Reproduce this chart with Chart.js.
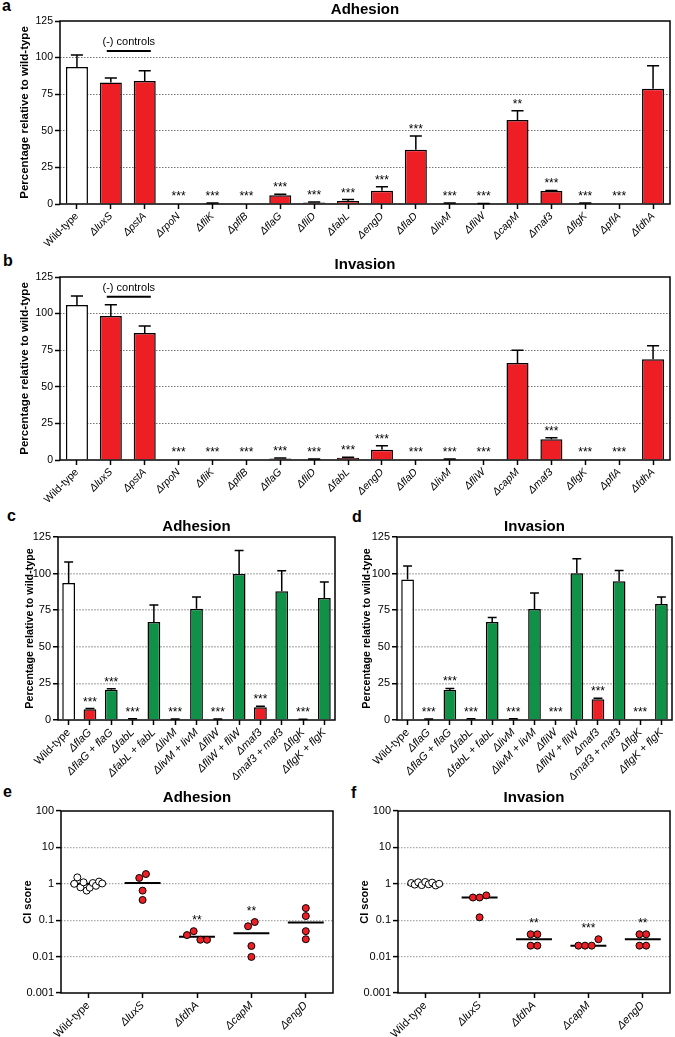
<!DOCTYPE html>
<html>
<head>
<meta charset="utf-8">
<script src="https://cdn.jsdelivr.net/npm/chart.js@4.4.0/dist/chart.umd.min.js"></script>
<style>
  body { margin: 0; background: #fff; width: 675px; height: 1037px; position: relative; overflow: hidden;
         font-family: "Liberation Sans", Arial, sans-serif; }
  canvas { position: absolute; }
  .tag { position: absolute; font-weight: bold; font-size: 16px; line-height: 16px; }
</style>
</head>
<body>
<div class="tag" style="left:2px;top:-2px">a</div>
<div class="tag" style="left:3px;top:253px">b</div>
<div class="tag" style="left:7px;top:508px">c</div>
<div class="tag" style="left:352px;top:509px">d</div>
<div class="tag" style="left:3px;top:784px">e</div>
<div class="tag" style="left:351px;top:785px">f</div>

<canvas id="pa" width="675" height="255" style="left:0;top:1px"></canvas>
<canvas id="pb" width="675" height="250" style="left:0;top:256px"></canvas>
<canvas id="pc" width="340" height="262" style="left:0;top:518px"></canvas>
<canvas id="pd" width="338" height="262" style="left:337px;top:518px"></canvas>
<canvas id="pe" width="340" height="248" style="left:0;top:789px"></canvas>
<canvas id="pf" width="338" height="248" style="left:337px;top:789px"></canvas>

<script>
// ---- screen of single mutants (a, b)
var screenLabels = ["Wild-type", "ΔluxS", "ΔpstA", "ΔrpoN", "ΔfliK", "ΔpflB", "ΔflaG", "ΔfliD", "ΔfabL",
  "ΔengD", "ΔflaD", "ΔlivM", "ΔfliW", "ΔcapM", "Δmaf3", "ΔflgK", "ΔpflA", "ΔfdhA"];
var adhesionMean = [93.6, 83, 84, 0, 0.5, 0, 6, 1, 2, 9, 37, 0.5, 0.3, 57.4, 8.9, 0.5, 0, 78.8];
var adhesionErr = [8.2, 3, 7, 0, 0.2, 0, 0.7, 0.3, 1, 2.8, 9.4, 0.2, 0.1, 6.3, 0.4, 0.2, 0, 15.7];
var adhesionSig = ["", "", "", "***", "***", "***", "***", "***", "***", "***", "***", "***", "***", "**", "***", "***", "***", ""];
var invasionMean = [105.9, 98.4, 86.7, 0.3, 0.2, 0.3, 1, 0.5, 1.5, 7, 0.3, 0.5, 0.2, 66.3, 14.1, 0.2, 0, 68.8];
var invasionErr = [6.1, 7.6, 4.8, 0, 0, 0, 0.3, 0.2, 0.4, 2.8, 0, 0.2, 0, 8.7, 1.1, 0, 0, 9.2];
var invasionSig = ["", "", "", "***", "***", "***", "***", "***", "***", "***", "***", "***", "***", "", "***", "***", "***", ""];
var percentTicks = [0, 25, 50, 75, 100, 125];

// ---- complementation (c, d)
var compLabels = ["Wild-type", "ΔflaG", "ΔflaG + flaG", "ΔfabL", "ΔfabL + fabL", "ΔlivM", "ΔlivM + livM",
  "ΔfliW", "ΔfliW + fliW", "Δmaf3", "Δmaf3 + maf3", "ΔflgK", "ΔflgK + flgK"];
var compAdhMean = [93.6, 7.3, 20.7, 0.7, 67, 0.5, 76, 0.5, 99.7, 8.7, 87.9, 0.3, 83.3];
var compAdhErr = [14.4, 0.5, 0.6, 0.2, 11.6, 0.2, 8, 0.2, 16, 0.7, 14.1, 0.2, 11];
var compAdhSig = ["", "***", "***", "***", "", "***", "", "***", "", "***", "", "***", ""];
var compInvMean = [96, 0.5, 20.5, 0.7, 67, 0.6, 75.8, 0, 100.2, 14.1, 94.7, 0, 79.2];
var compInvErr = [9.2, 0.2, 1.1, 0.2, 3, 0.2, 10.9, 0, 10, 0.7, 7.5, 0, 4.8];
var compInvSig = ["", "***", "***", "***", "", "***", "", "***", "", "***", "", "***", ""];

// ---- competitive index (e, f)
var ciLabels = ["Wild-type", "ΔluxS", "ΔfdhA", "ΔcapM", "ΔengD"];
var ciTicks = [0.001, 0.01, 0.1, 1, 10, 100];
var adhWT = [1.0, 1.5, 0.8, 1.1, 0.65, 0.78, 1.05, 0.88, 1.15, 1.02];
var adhLuxS = [1.45, 1.85, 0.65, 0.36];
var adhFdhA = [0.039, 0.05, 0.029, 0.029];
var adhCapM = [0.068, 0.089, 0.0196, 0.0098];
var adhEngD = [0.215, 0.13, 0.05, 0.03];
var adhMedian = [1.0, 1.05, 0.035, 0.044, 0.087];
var adhCiSig = ["", "", "**", "**", ""];
var invWT = [1.05, 0.95, 1.1, 0.92, 1.12, 0.97, 1.08, 0.9, 1.0];
var invLuxS = [0.42, 0.42, 0.48, 0.12];
var invFdhA = [0.041, 0.041, 0.02, 0.02];
var invCapM = [0.02, 0.02, 0.02, 0.03];
var invEngD = [0.041, 0.041, 0.02, 0.02];
var invMedian = [0.96, 0.42, 0.03, 0.02, 0.03];
var invCiSig = ["", "", "**", "***", "**"];

Chart.defaults.font.family = '"Liberation Sans", Arial, sans-serif';
Chart.defaults.color = "#000";

var RED = "#ED1F24", GREEN = "#0F9247";

function fillFor(label) {
  if (label === "Wild-type") return "#fff";
  return label.indexOf("+") > 0 ? GREEN : RED;
}

function labelFont(size) {
  return function (c) {
    return { size: size, style: c.index === 0 ? "normal" : "italic" };
  };
}

// error bars, significance stars, frame and the "(-) controls" bracket
var barExtras = {
  id: "barExtras",
  afterDatasetsDraw: function (chart, args, opts) {
    var ctx = chart.ctx, y = chart.scales.y, x = chart.scales.x;
    var ds = chart.data.datasets[0];
    var meta = chart.getDatasetMeta(0);
    var base = y.getPixelForValue(0);
    ctx.save();
    ctx.strokeStyle = "#000";
    ctx.fillStyle = "#000";
    ctx.lineWidth = 1.5;
    ctx.font = '12px "Liberation Sans", Arial';
    ctx.textAlign = "center";
    ctx.textBaseline = "alphabetic";
    meta.data.forEach(function (bar, i) {
      var top = y.getPixelForValue(ds.data[i] + ds.errors[i]);
      if (ds.errors[i] > 0) {
        var half = bar.width * opts.cap / 2;
        ctx.beginPath();
        ctx.moveTo(bar.x, bar.y);
        ctx.lineTo(bar.x, top);
        ctx.moveTo(bar.x - half, top);
        ctx.lineTo(bar.x + half, top);
        ctx.stroke();
      }
      if (ds.stars[i]) ctx.fillText(ds.stars[i], bar.x, Math.min(top, base - 1) - 3);
    });
    var a = chart.chartArea;
    ctx.strokeRect(a.left, a.top, a.right - a.left, a.bottom - a.top);
    if (opts.controlsAt) {
      var step = x.getPixelForValue(2) - x.getPixelForValue(1);
      var x1 = x.getPixelForValue(1) - step * 0.12, x2 = x.getPixelForValue(2) + step * 0.18;
      var ly = y.getPixelForValue(opts.controlsAt);
      ctx.lineWidth = 2;
      ctx.beginPath();
      ctx.moveTo(x1, ly);
      ctx.lineTo(x2, ly);
      ctx.stroke();
      ctx.font = '11px "Liberation Sans", Arial';
      ctx.fillText("(-) controls", (x1 + x2) / 2, ly - 6);
    }
    ctx.restore();
  }
};

function barChart(id, geom, title, labels, values, errors, stars, look) {
  return new Chart(document.getElementById(id), {
    type: "bar",
    data: {
      labels: labels,
      datasets: [{
        data: values, errors: errors, stars: stars,
        backgroundColor: labels.map(fillFor),
        borderColor: "#000", borderWidth: 1.5,
        barPercentage: look.bar, categoryPercentage: 1
      }]
    },
    options: {
      responsive: false, animation: false, devicePixelRatio: 1,
      layout: { padding: { left: 0, top: 0, right: geom.padRight, bottom: 0 } },
      plugins: {
        legend: { display: false },
        tooltip: { enabled: false },
        title: { display: true, text: title, fullSize: false, color: "#000",
          font: { size: 15, weight: "bold" }, padding: { top: 0, bottom: geom.titleGap } },
        barExtras: { controlsAt: look.controlsAt, cap: look.cap }
      },
      scales: {
        x: {
          offset: true,
          border: { display: false },
          grid: { offset: false, drawOnChartArea: false, tickLength: 5, tickColor: "#000", tickWidth: 1.5 },
          ticks: { autoSkip: false, minRotation: 45, maxRotation: 45, padding: 1, color: "#000", font: labelFont(look.xFont) },
          afterFit: function (s) { s.height = geom.xHeight; }
        },
        y: {
          min: 0, max: 125,
          afterBuildTicks: function (s) { s.ticks = percentTicks.map(function (v) { return { value: v }; }); },
          border: { display: false, dash: look.dash },
          grid: {
            color: function (c) { return c.tick && (c.tick.value === 0 || c.tick.value === 125) ? "rgba(0,0,0,0)" : look.grid; },
            lineWidth: look.gridWidth, tickColor: "#000", tickLength: 5, tickWidth: 1.5
          },
          ticks: { autoSkip: false, z: 1, padding: 2, color: "#000", font: { size: look.yFont } },
          title: { display: true, text: "Percentage relative to wild-type", color: "#000",
            font: { size: look.titleFont, weight: "bold" }, padding: { top: geom.titlePad, bottom: 0 } },
          afterFit: function (s) { s.width = geom.left; }
        }
      }
    },
    plugins: [barExtras]
  });
}

// dot layout: points closer than a marker width form a row, spread evenly in listed order
function spread(vals) {
  var pxDecade = 36.5, pxUnit = 54.5, near = 7;
  var idx = vals.map(function (v, j) { return j; });
  idx.sort(function (a, b) { return vals[a] - vals[b]; });
  var rows = [], cur = [];
  idx.forEach(function (j, k) {
    if (k > 0 && (Math.log10(vals[j]) - Math.log10(vals[idx[k - 1]])) * pxDecade >= near) {
      rows.push(cur);
      cur = [];
    }
    cur.push(j);
  });
  rows.push(cur);
  var offs = vals.map(function () { return 0; });
  rows.forEach(function (row) {
    row.sort(function (a, b) { return a - b; });
    var n = row.length;
    if (n < 2) return;
    var step = Math.min(6.7, 28 / (n - 1));
    row.forEach(function (j, k) { offs[j] = (k - (n - 1) / 2) * step / pxUnit; });
  });
  return offs;
}

var ciExtras = {
  id: "ciExtras",
  beforeDatasetsDraw: function (chart) {
    var ctx = chart.ctx, x = chart.scales.x, y = chart.scales.y;
    var half = (x.getPixelForValue(1) - x.getPixelForValue(0)) * 0.33;
    ctx.save();
    ctx.strokeStyle = "#000";
    ctx.lineWidth = 2;
    chart.data.datasets.forEach(function (ds, g) {
      var cx = x.getPixelForValue(g), my = y.getPixelForValue(ds.median);
      ctx.beginPath();
      ctx.moveTo(cx - half, my);
      ctx.lineTo(cx + half, my);
      ctx.stroke();
    });
    ctx.restore();
  },
  afterDatasetsDraw: function (chart) {
    var ctx = chart.ctx, x = chart.scales.x, y = chart.scales.y;
    ctx.save();
    ctx.fillStyle = "#000";
    ctx.strokeStyle = "#000";
    ctx.font = '12px "Liberation Sans", Arial';
    ctx.textAlign = "center";
    chart.data.datasets.forEach(function (ds, g) {
      if (!ds.stars) return;
      var hi = Math.max.apply(null, ds.data.map(function (p) { return p.y; }));
      ctx.fillText(ds.stars, x.getPixelForValue(g), y.getPixelForValue(hi) - 7);
    });
    ctx.lineWidth = 1.5;
    var a = chart.chartArea;
    ctx.strokeRect(a.left, a.top, a.right - a.left, a.bottom - a.top);
    ctx.restore();
  }
};

function ciChart(id, geom, title, groups, medians, stars) {
  var datasets = groups.map(function (vals, g) {
    var offs = spread(vals);
    return {
      data: vals.map(function (v, j) { return { x: g + offs[j], y: v }; }),
      median: medians[g], stars: stars[g],
      pointRadius: 3.5, pointBorderWidth: 1, pointBorderColor: "#000",
      pointBackgroundColor: g === 0 ? "#fff" : RED
    };
  });
  return new Chart(document.getElementById(id), {
    type: "scatter",
    data: { datasets: datasets },
    options: {
      responsive: false, animation: false, devicePixelRatio: 1,
      layout: { padding: { left: 0, top: 0, right: geom.padRight, bottom: 0 } },
      plugins: {
        legend: { display: false },
        tooltip: { enabled: false },
        title: { display: true, text: title, fullSize: false, color: "#000",
          font: { size: 15, weight: "bold" }, padding: { top: 0, bottom: geom.titleGap } }
      },
      scales: {
        x: {
          type: "linear", min: -0.5, max: 4.5,
          afterBuildTicks: function (s) { s.ticks = ciLabels.map(function (l, i) { return { value: i }; }); },
          border: { display: false },
          grid: { drawOnChartArea: false, tickLength: 5, tickColor: "#000", tickWidth: 1.5 },
          ticks: { autoSkip: false, minRotation: 45, maxRotation: 45, padding: 1, color: "#000",
            font: labelFont(11), callback: function (v) { return ciLabels[v]; } },
          afterFit: function (s) { s.height = geom.xHeight; }
        },
        y: {
          type: "logarithmic", min: 0.001, max: 100,
          afterBuildTicks: function (s) { s.ticks = ciTicks.map(function (v) { return { value: v }; }); },
          border: { display: false, dash: [1.5, 1.5] },
          grid: {
            color: function (c) { return c.tick && (c.tick.value === 0.001 || c.tick.value === 100) ? "rgba(0,0,0,0)" : "#a8a8a8"; },
            lineWidth: 1.2, tickColor: "#000", tickLength: 5, tickWidth: 1.5
          },
          ticks: { autoSkip: false, padding: 2, color: "#000", font: { size: 11 }, callback: function (v) { return String(v); } },
          title: { display: true, text: "CI score", color: "#000",
            font: { size: 11, weight: "bold" }, padding: { top: geom.titlePad, bottom: 0 } },
          afterFit: function (s) { s.width = geom.left; }
        }
      }
    },
    plugins: [ciExtras]
  });
}

var wideLook = { bar: 0.65, cap: 0.55, xFont: 10.5, yFont: 10.5, titleFont: 11.5, dash: [1.5, 1.5], grid: "#777", gridWidth: 1 };
var compLook = { bar: 0.6, cap: 0.7, xFont: 11, yFont: 11, titleFont: 10.7, dash: [2, 1], grid: "#bdbdbd", gridWidth: 1.5 };

barChart("pa", { left: 60, padRight: 5, xHeight: 52, titleGap: 2, titlePad: 17.6 }, "Adhesion",
  screenLabels, adhesionMean, adhesionErr, adhesionSig, Object.assign({ controlsAt: 104.5 }, wideLook));
barChart("pb", { left: 60, padRight: 5, xHeight: 46, titleGap: 3, titlePad: 17.6 }, "Invasion",
  screenLabels, invasionMean, invasionErr, invasionSig, Object.assign({ controlsAt: 111.5 }, wideLook));
barChart("pc", { left: 58, padRight: 5, xHeight: 60, titleGap: 1, titlePad: 24 }, "Adhesion",
  compLabels, compAdhMean, compAdhErr, compAdhSig, compLook);
barChart("pd", { left: 60, padRight: 3, xHeight: 60, titleGap: 1, titlePad: 23.3 }, "Invasion",
  compLabels, compInvMean, compInvErr, compInvSig, compLook);
ciChart("pe", { left: 61, padRight: 7, xHeight: 44, titleGap: 4, titlePad: 21 }, "Adhesion",
  [adhWT, adhLuxS, adhFdhA, adhCapM, adhEngD], adhMedian, adhCiSig);
ciChart("pf", { left: 61, padRight: 4, xHeight: 44, titleGap: 4, titlePad: 21.4 }, "Invasion",
  [invWT, invLuxS, invFdhA, invCapM, invEngD], invMedian, invCiSig);
</script>
</body>
</html>
